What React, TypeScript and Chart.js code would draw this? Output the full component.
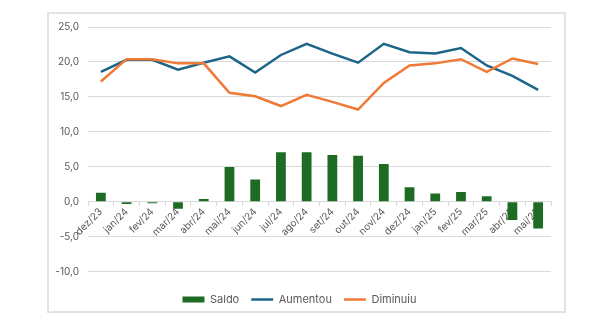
import React, { useEffect, useRef } from "react";
import { Chart, registerables } from "chart.js";

Chart.register(...registerables);

const categories = [
  "dez/23", "jan/24", "fev/24", "mar/24", "abr/24", "mai/24", "jun/24", "jul/24", "ago/24",
  "set/24", "out/24", "nov/24", "dez/24", "jan/25", "fev/25", "mar/25", "abr/25", "mai/25",
];
const saldo = [1.3, -0.3, -0.2, -1.0, 0.4, 5.0, 3.2, 7.1, 7.1, 6.7, 6.6, 5.4, 2.1, 1.2, 1.4, 0.8, -2.6, -3.8];
const aumentou = [18.6, 20.3, 20.3, 18.9, 19.9, 20.8, 18.5, 21.0, 22.6, 21.2, 19.9, 22.6, 21.4, 21.2, 22.0, 19.5, 18.0, 16.0];
const diminuiu = [17.2, 20.4, 20.4, 19.8, 19.8, 15.6, 15.1, 13.7, 15.3, 14.3, 13.2, 17.0, 19.5, 19.8, 20.4, 18.6, 20.5, 19.7];
const yMin = -10;
const yMax = 25;
const yStep = 5;

const FONT = "Inter, 'Liberation Sans', sans-serif";
const TEXT = "#595959";
const GRID = "#d9d9d9";

export default function App() {
  const ref = useRef<HTMLCanvasElement | null>(null);

  useEffect(() => {
    if (!ref.current) return;
    const chart = new Chart(ref.current, {
      type: "bar",
      data: {
        labels: categories,
        datasets: [
          {
            type: "bar",
            label: "Saldo",
            data: saldo,
            backgroundColor: "#1e6b24",
            borderWidth: 0,
            barPercentage: 0.38,
            categoryPercentage: 1,
            order: 3,
            pointStyle: "rect",
          } as any,
          {
            type: "line",
            label: "Aumentou",
            data: aumentou,
            borderColor: "#1c6488",
            backgroundColor: "#1c6488",
            borderWidth: 2.5,
            pointRadius: 0,
            tension: 0,
            order: 2,
            pointStyle: "line",
          } as any,
          {
            type: "line",
            label: "Diminuiu",
            data: diminuiu,
            borderColor: "#f07a35",
            backgroundColor: "#f07a35",
            borderWidth: 2.5,
            pointRadius: 0,
            tension: 0,
            order: 1,
            pointStyle: "line",
          } as any,
        ],
      },
      options: {
        responsive: false,
        animation: false,
        layout: { padding: { left: 48, right: 49, top: 27, bottom: 8 } },
        plugins: {
          tooltip: { enabled: false },
          legend: {
            position: "bottom",
            title: {
              display: true,
              text: " ",
              font: { size: 1 },
              padding: { top: 9, bottom: 0 },
            },
            labels: {
              usePointStyle: true,
              pointStyleWidth: 22,
              boxHeight: 6,
              color: TEXT,
              font: { family: FONT, size: 11 },
              padding: 12,
              sort: (a: any, b: any) => a.datasetIndex - b.datasetIndex,
            },
          },
        },
        scales: {
          x: {
            position: { y: 0 } as any,
            grid: {
              offset: true,
              drawOnChartArea: false,
              drawTicks: true,
              tickLength: 4,
              color: GRID,
            },
            border: { display: true, color: GRID, width: 1 },
            ticks: {
              color: TEXT,
              font: { family: FONT, size: 10 },
              maxRotation: 45,
              minRotation: 45,
              autoSkip: false,
              padding: 0,
            },
          },
          y: {
            min: yMin,
            max: yMax,
            ticks: {
              stepSize: yStep,
              color: TEXT,
              font: { family: FONT, size: 10 },
              padding: 9,
              callback: (v: any) => Number(v).toFixed(1).replace(".", ","),
            },
            grid: { color: GRID, drawTicks: false },
            border: { display: false },
            afterFit: (scale: any) => {
              scale.width = 40;
            },
          },
        },
      } as any,
    });
    return () => chart.destroy();
  }, []);

  return (
    <div style={{ position: "absolute", left: 0, top: 0, width: 600, height: 323, background: "#fff" }}>
      <div
        style={{
          position: "absolute",
          left: 47,
          top: 12,
          width: 519,
          height: 301,
          border: "2px solid #e3e3e3",
          boxSizing: "border-box",
        }}
      />
      <canvas ref={ref} width={600} height={323} style={{ position: "absolute", left: 0, top: 0, width: 600, height: 323 }} />
    </div>
  );
}
